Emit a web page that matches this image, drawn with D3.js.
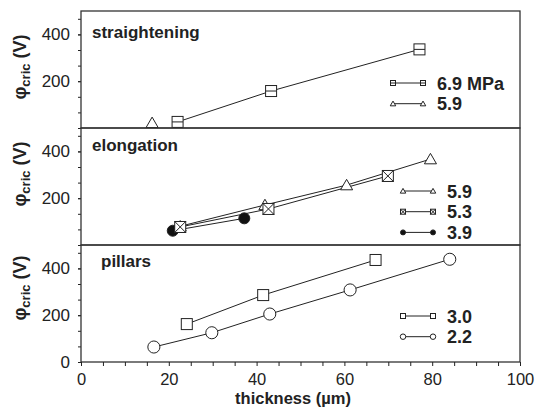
<!DOCTYPE html>
<html>
<head>
<meta charset="utf-8">
<script src="https://cdn.jsdelivr.net/npm/d3@7"></script>
<style>
  body { margin: 0; background: #fff; }
  svg text { font-family: "Liberation Sans", Arial, sans-serif; fill: #222; }
</style>
</head>
<body>
<div id="chart"></div>
<script>
/* ---- data ---- */
const xLabelTicks = [0, 20, 40, 60, 80, 100];
const panelNames = ["straightening", "elongation", "pillars"];
const yLabelTicks = [[200, 400], [200, 400], [0, 200, 400]];

/* straightening */
const str69x = [22.0, 43.3, 77.1], str69y = [26, 158, 336];
const str59x = [16.2], str59y = [22];
/* elongation */
const elo59x = [22.6, 41.9, 60.5, 79.6], elo59y = [80, 171, 256, 367];
const elo39x = [20.9, 37.2], elo39y = [61, 114];
const elo53x = [22.6, 42.7, 69.9], elo53y = [77, 154, 295];
/* pillars */
const pil30x = [24.1, 41.5, 67.1], pil30y = [162, 286, 436];
const pil22x = [16.6, 29.8, 43.0, 61.3, 84.0], pil22y = [64, 125, 205, 308, 439];

const legendLabels = [["6.9 MPa", "5.9"], ["5.9", "5.3", "3.9"], ["3.0", "2.2"]];

function zip(xs, ys) { return xs.map(function (v, i) { return { x: v, y: ys[i] }; }); }

/* series per panel, in draw order (legend order kept separately) */
const panels = [
  { name: panelNames[0], ticks: yLabelTicks[0], legX: 393, legY: 72, labY: 56,
    series: [
      { pts: zip(str69x, str69y), mk: "sqh", leg: 0 },
      { pts: zip(str59x, str59y), mk: "tri", leg: 1 }
    ] },
  { name: panelNames[1], ticks: yLabelTicks[1], legX: 403, legY: 63, labY: 46,
    series: [
      { pts: zip(elo59x, elo59y), mk: "tri", leg: 0 },
      { pts: zip(elo39x, elo39y), mk: "dot", leg: 2 },
      { pts: zip(elo53x, elo53y), mk: "sqx", leg: 1 }
    ] },
  { name: panelNames[2], ticks: yLabelTicks[2], legX: 403, legY: 71, labY: 43,
    series: [
      { pts: zip(pil30x, pil30y), mk: "sq", leg: 0 },
      { pts: zip(pil22x, pil22y), mk: "circ", leg: 1 }
    ] }
];

/* ---- layout ---- */
const W = 536, H = 407;
const mLeft = 81, mRight = 520, mTop = 11, panelH = 117;
const ink = "#222";

const svg = d3.select("#chart").append("svg")
  .attr("width", W).attr("height", H);

const x = d3.scaleLinear().domain([0, 100]).range([mLeft, mRight]);

/* draws a marker centred on 0,0 into group g; s = half size */
function marker(g, type, s) {
  if (type === "sq" || type === "sqh" || type === "sqx") {
    g.append("rect").attr("x", -s).attr("y", -s).attr("width", 2 * s).attr("height", 2 * s)
      .style("fill", "#fff").style("stroke", ink).style("stroke-width", 1);
    if (type === "sqh") {
      g.append("line").attr("x1", -s).attr("x2", s).attr("y1", 0).attr("y2", 0)
        .style("stroke", ink).style("stroke-width", 1);
    }
    if (type === "sqx") {
      g.append("path").attr("d", "M" + (-s) + "," + (-s) + "L" + s + "," + s + "M" + s + "," + (-s) + "L" + (-s) + "," + s)
        .style("stroke", ink).style("stroke-width", 1).style("fill", "none");
    }
  } else if (type === "tri") {
    const h = s * 1.9;
    g.append("path").attr("d", "M0," + (-h * 0.55) + "L" + (s * 1.1) + "," + (h * 0.45) + "L" + (-s * 1.1) + "," + (h * 0.45) + "Z")
      .style("fill", "#fff").style("stroke", ink).style("stroke-width", 1);
  } else if (type === "circ") {
    g.append("circle").attr("r", s * 1.1).style("fill", "#fff").style("stroke", ink).style("stroke-width", 1);
  } else if (type === "dot") {
    g.append("circle").attr("r", s).style("fill", "#111").style("stroke", ink).style("stroke-width", 1);
  }
}

panels.forEach(function (p, pi) {
  const y0 = mTop + pi * panelH;
  const y = d3.scaleLinear().domain([0, 500]).range([y0 + panelH, y0]);
  const g = svg.append("g");

  /* y axis: minor ticks every 200/3, labels only on listed values */
  const minor = d3.range(0, 8).map(function (i) { return i * 200 / 3; });
  g.append("g")
    .attr("transform", "translate(" + mLeft + ",0)")
    .call(d3.axisLeft(y).tickValues(minor).tickSize(3).tickFormat(""))
    .call(function (a) { a.select(".domain").remove(); a.selectAll("line").style("stroke", ink); });
  g.append("g")
    .attr("transform", "translate(" + mLeft + ",0)")
    .call(d3.axisLeft(y).tickValues(p.ticks).tickSize(3).tickPadding(8))
    .call(function (a) {
      a.select(".domain").remove();
      a.selectAll("line").style("stroke", ink);
      a.selectAll("text").style("font-size", "17px").style("fill", "#222");
    });

  /* frame */
  g.append("rect")
    .attr("x", mLeft).attr("y", y0).attr("width", mRight - mLeft).attr("height", panelH)
    .style("fill", "none").style("stroke", "#333").style("stroke-width", 1.3);

  /* panel label */
  g.append("text")
    .attr("x", pi === 2 ? 101 : 92).attr("y", y0 + (pi === 0 ? 27 : pi === 1 ? 23 : 22))
    .style("font-size", "17px").style("font-weight", "bold")
    .text(p.name);

  /* y title */
  const yt = g.append("text")
    .attr("transform", "translate(26," + (y0 + p.labY) + ") rotate(-90)")
    .style("text-anchor", "middle")
    .style("font-size", "18px").style("font-weight", "bold");
  yt.append("tspan").text("φ");
  yt.append("tspan").attr("dy", 4).style("font-size", "13px").text("cric");
  yt.append("tspan").attr("dy", -4).text(" (V)");

  /* lines */
  const line = d3.line().x(function (d) { return x(d.x); }).y(function (d) { return y(d.y); });
  p.series.forEach(function (s) {
    g.append("path").datum(s.pts).attr("d", line)
      .style("fill", "none").style("stroke", ink).style("stroke-width", 1);
  });
  /* markers */
  p.series.forEach(function (s) {
    s.pts.forEach(function (d) {
      const m = g.append("g").attr("transform", "translate(" + x(d.x) + "," + y(d.y) + ")");
      marker(m, s.mk, 5.5);
    });
  });

  /* legend */
  p.series.forEach(function (s) {
    const ly = y0 + p.legY + s.leg * 20.7;
    const lg = g.append("g");
    lg.append("line").attr("x1", p.legX).attr("x2", p.legX + 30).attr("y1", ly).attr("y2", ly)
      .style("stroke", ink).style("stroke-width", 1);
    [p.legX, p.legX + 30].forEach(function (lx) {
      marker(lg.append("g").attr("transform", "translate(" + lx + "," + ly + ")"), s.mk, 2.5);
    });
    lg.append("text").attr("x", p.legX + 44).attr("y", ly + 6.5)
      .style("font-size", "18px").style("font-weight", "bold")
      .text(legendLabels[pi][s.leg]);
  });
});

/* x axis */
const xb = mTop + 3 * panelH;
svg.append("g")
  .attr("transform", "translate(0," + xb + ")")
  .call(d3.axisBottom(x).tickValues(d3.range(0, 101, 5)).tickSize(4).tickPadding(7)
    .tickFormat(function (v) { return xLabelTicks.indexOf(v) >= 0 ? v : ""; }))
  .call(function (a) {
    a.select(".domain").remove();
    a.selectAll("line").style("stroke", ink);
    a.selectAll("text").style("font-size", "16.5px").style("fill", "#222");
  });

svg.append("text")
  .attr("x", 293).attr("y", 404)
  .style("text-anchor", "middle").style("font-size", "16.5px").style("font-weight", "bold")
  .text("thickness (µm)");
</script>
</body>
</html>
